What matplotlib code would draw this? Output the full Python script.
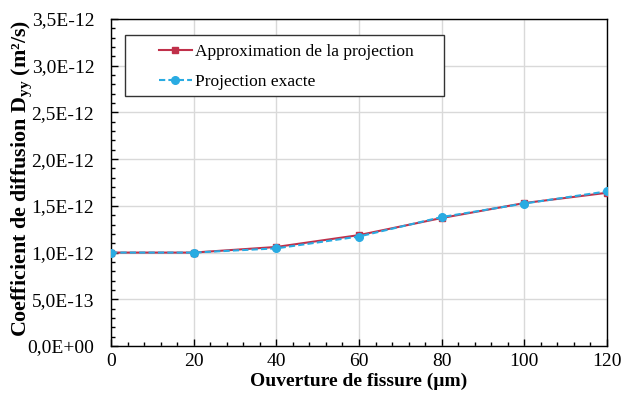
import matplotlib
matplotlib.use("Agg")
import matplotlib.pyplot as plt
from matplotlib.ticker import FuncFormatter, MultipleLocator
from matplotlib.patches import Rectangle

plt.rcParams['font.family'] = ['Liberation Serif', 'DejaVu Serif']
plt.rcParams['mathtext.fontset'] = 'custom'
plt.rcParams['mathtext.rm'] = 'Liberation Serif'
plt.rcParams['mathtext.bf'] = 'Liberation Serif:bold'

x = [0, 20, 40, 60, 80, 100, 120]
approx = [1.00e-12, 1.00e-12, 1.06e-12, 1.187e-12, 1.37e-12, 1.53e-12, 1.64e-12]
exacte = [1.00e-12, 1.00e-12, 1.045e-12, 1.172e-12, 1.38e-12, 1.525e-12, 1.655e-12]

W, H = 621, 403
fig = plt.figure(figsize=(W/100, H/100), dpi=100)
ax = fig.add_axes([111/W, 1 - 346/H, (607-111)/W, (346-19)/H])

ax.plot(x, approx, color='#C0304A', marker='s', markersize=4.5, lw=1.5,
        label='Approximation de la projection', zorder=3)
ax.plot(x, exacte, color='#29ABE2', marker='o', markersize=5.5, lw=1.5, ls='--',
        dashes=(3, 1.5), label='Projection exacte', zorder=4)

ax.set_xlim(0, 120)
ax.set_ylim(0, 3.5e-12)
ax.xaxis.set_major_locator(MultipleLocator(20))
ax.xaxis.set_minor_locator(MultipleLocator(4))
ax.yaxis.set_major_locator(MultipleLocator(0.5e-12))
ax.yaxis.set_minor_locator(MultipleLocator(0.1e-12))

def fmt(v, pos):
    if abs(v) < 1e-20:
        return '0,0E+00'
    s = '%.1E' % v
    mant, exp = s.split('E')
    e = int(exp)
    return '%sE%s%02d' % (mant.replace('.', ','), '-' if e < 0 else '+', abs(e))

ax.yaxis.set_major_formatter(FuncFormatter(fmt))
ax.tick_params(which='both', direction='in', top=False, right=False,
               labelsize=14, colors='black')
ax.tick_params(which='major', length=5, width=1)
ax.tick_params(which='minor', length=3, width=1)
ax.tick_params(axis='x', pad=5)
ax.tick_params(axis='y', pad=12)
ax.grid(True, which='major', color='#D9D9D9', lw=1)
ax.set_axisbelow(True)
for sp in ax.spines.values():
    sp.set_color('black')
    sp.set_linewidth(1)

ax.set_xlabel('Ouverture de fissure (µm)', fontsize=14, fontweight='bold', labelpad=2)
ax.set_ylabel(r'Coefficient de diffusion D$_{\mathbf{yy}}$ (m²/s)', fontsize=15.8,
              fontweight='bold', va='center')
ax.yaxis.set_label_coords((22-111)/496, (346-178)/327)

# legend frame (decorative box) and legend entries
frame = Rectangle((125/W, 1 - 96/H), (444-125)/W, (96-35)/H, transform=fig.transFigure,
                  facecolor='white', edgecolor='#333333', lw=1, zorder=5)
ax.add_patch(frame)
leg = fig.legend(*ax.get_legend_handles_labels(), loc='upper left',
                 bbox_to_anchor=(159/W, 1 - 44/H), fontsize=12.5,
                 frameon=False, borderpad=0, labelspacing=0.8,
                 handlelength=1.9, handletextpad=0.17, borderaxespad=0)

fig.savefig('out.png', dpi=100)
